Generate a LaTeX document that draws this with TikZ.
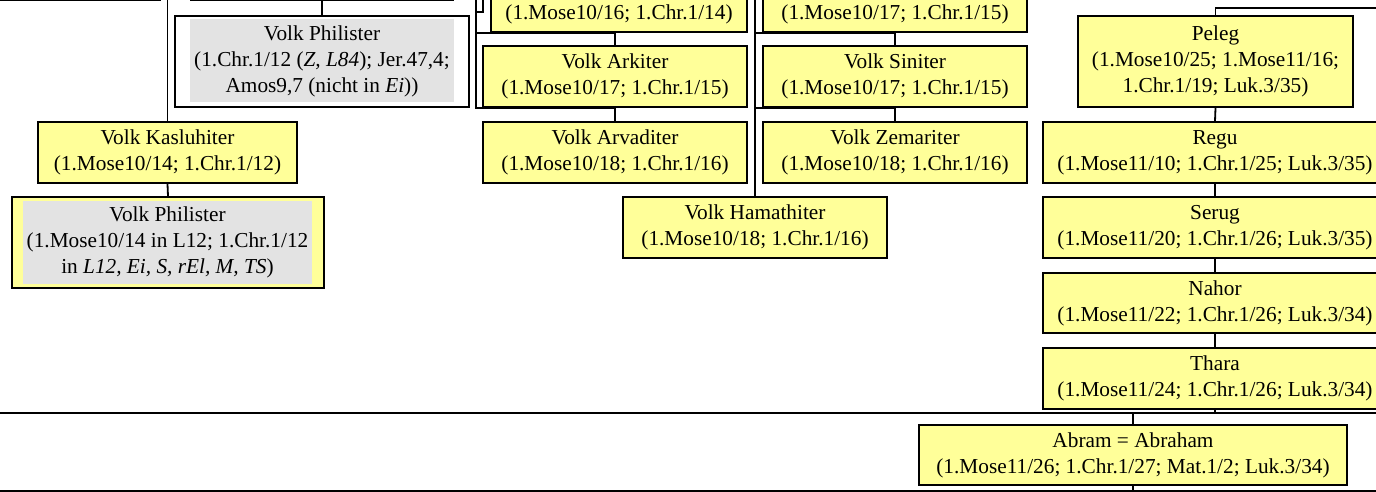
\documentclass[tikz,border=0pt]{standalone}
\usepackage{fontspec}
\setmainfont{Liberation Serif}
\definecolor{boxyellow}{HTML}{FFFF99}
\definecolor{innergray}{HTML}{E3E3E3}
\tikzset{
  famnode/.style={draw=black, line width=2pt, fill=boxyellow, rectangle, inner sep=0pt, align=center,
    font=\fontsize{21.3pt}{26pt}\selectfont},
  whitenode/.style={famnode, fill=white},
  graytext/.style={fill=innergray, rectangle, inner sep=0pt, align=center,
    font=\fontsize{21.3pt}{26pt}\selectfont},
  plaintext/.style={inner sep=0pt, align=center, font=\fontsize{21.3pt}{26pt}\selectfont},
  link/.style={draw=black, line width=1.8pt},
  rule/.style={draw=black, line width=2.2pt},
}
\begin{document}
\begin{tikzpicture}[x=1pt, y=-1pt]
\useasboundingbox (0,0) rectangle (1376,492);
\clip (0,0) rectangle (1376,492);
\fill[white] (0,0) rectangle (1376,492);

% boxes cut off at the top edge
\node[whitenode, minimum width=200, minimum height=61] (upL) at (60,-30) {};
\node[whitenode, minimum width=262, minimum height=61] (upP) at (322,-30) {};
\node[famnode, minimum width=256, minimum height=61] (boxA) at (619,1.5) {};
\node[plaintext] (boxAt) at (619,14) {(1.Mose10/16; 1.Chr.1/14)};
\node[famnode, minimum width=264, minimum height=61] (boxB) at (895,1.5) {};
\node[plaintext] (boxBt) at (895,14) {(1.Mose10/17; 1.Chr.1/15)};

% Philister (white frame with gray inner)
\node[whitenode, minimum width=294, minimum height=91] (phil1) at (322,61.5) {};
\node[graytext, minimum width=264, minimum height=83] (phil1t) at (322,61)
  {Volk Philister\\(1.Chr.1/12 (\textit{Z, L84}); Jer.47,4;\\Amos9,7 (nicht in \textit{Ei}))};

\node[famnode, minimum width=259, minimum height=61] (kas) at (167.5,152.5)
  {Volk Kasluhiter\\(1.Mose10/14; 1.Chr.1/12)};

\node[famnode, minimum width=312, minimum height=91] (phil2) at (168,242.5) {};
\node[graytext, minimum width=289, minimum height=83] (phil2t) at (167.5,242)
  {Volk Philister\\(1.Mose10/14 in L12; 1.Chr.1/12\\in \textit{L12, Ei, S, rEl, M, TS})};

% middle columns
\node[famnode, minimum width=264, minimum height=61] (ark) at (615,76.5)
  {Volk Arkiter\\(1.Mose10/17; 1.Chr.1/15)};
\node[famnode, minimum width=264, minimum height=61] (arv) at (615,152.5)
  {Volk Arvaditer\\(1.Mose10/18; 1.Chr.1/16)};
\node[famnode, minimum width=264, minimum height=61] (sin) at (895,76.5)
  {Volk Siniter\\(1.Mose10/17; 1.Chr.1/15)};
\node[famnode, minimum width=264, minimum height=61] (zem) at (895,152.5)
  {Volk Zemariter\\(1.Mose10/18; 1.Chr.1/16)};
\node[famnode, minimum width=264, minimum height=61] (ham) at (755,227.5)
  {Volk Hamathiter\\(1.Mose10/18; 1.Chr.1/16)};

% right column
\node[famnode, minimum width=275, minimum height=91] (peleg) at (1215.5,61.5)
  {Peleg\\(1.Mose10/25; 1.Mose11/16;\\1.Chr.1/19; Luk.3/35)};
\node[famnode, minimum width=344, minimum height=61] (regu) at (1215,152.5)
  {Regu\\(1.Mose11/10; 1.Chr.1/25; Luk.3/35)};
\node[famnode, minimum width=344, minimum height=61] (serug) at (1215,227.5)
  {Serug\\(1.Mose11/20; 1.Chr.1/26; Luk.3/35)};
\node[famnode, minimum width=344, minimum height=60] (nahor) at (1215,303)
  {Nahor\\(1.Mose11/22; 1.Chr.1/26; Luk.3/34)};
\node[famnode, minimum width=344, minimum height=61] (thara) at (1215,378.5)
  {Thara\\(1.Mose11/24; 1.Chr.1/26; Luk.3/34)};
\node[famnode, minimum width=428, minimum height=60] (abram) at (1133,455)
  {Abram = Abraham\\(1.Mose11/26; 1.Chr.1/27; Mat.1/2; Luk.3/34)};

% free ends
\coordinate (tkas) at (167.5,-5);
\coordinate (tL) at (476,-5);
\coordinate (tL2) at (483,-5);
\coordinate (tLj) at (476,12);
\coordinate (tR) at (755,-5);
\coordinate (pelegIn) at (1380,8);
\coordinate (hl1a) at (-5,413);
\coordinate (hl1b) at (1380,413);
\coordinate (hl2a) at (-5,491);
\coordinate (hl2b) at (1380,491);
\coordinate (abEnd) at (1133,496);

% connectors
\draw[link] (upP.south) -- (phil1.north);
\draw[link] (tkas) -- (kas.north);
\draw[link] (kas.south) -- (phil2.north);
\draw[link] (tL2) |- (tLj);
\draw[link] (ark.north) -- ++(0,-12) -| (tL);
\draw[link] (arv.north) -- ++(0,-13) -| (tL);
\draw[link] (sin.north) -- ++(0,-12) -| (tR);
\draw[link] (zem.north) -- ++(0,-13) -| (tR);
\draw[link] (tR) -- (ham.north);
\draw[link] (pelegIn) -| (peleg.north);
\draw[link] (peleg.south) -- (regu.north);
\draw[link] (regu.south) -- (serug.north);
\draw[link] (serug.south) -- (nahor.north);
\draw[link] (nahor.south) -- (thara.north);
\draw[link] (thara.south) -- (thara.south |- hl1a);
\draw[rule] (hl1a) -- (hl1b);
\draw[link] (abram.north) -- (abram.north |- hl1a);
\draw[rule] (hl2a) -- (hl2b);
\draw[rule] (abram.south) -- (abEnd);
\end{tikzpicture}
\end{document}
